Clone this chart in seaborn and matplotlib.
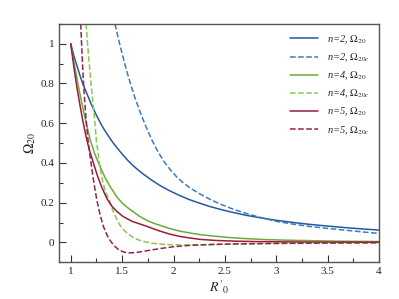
import numpy as np
import pandas as pd
import seaborn as sns
import matplotlib.pyplot as plt
from matplotlib.ticker import MultipleLocator

sns.set_style("ticks")
plt.rcParams['font.family'] = 'serif'
plt.rcParams['font.serif'] = ['Liberation Serif', 'DejaVu Serif']
plt.rcParams['mathtext.fontset'] = 'stix'
plt.rcParams['font.size'] = 8

# values
x_n2 = [1.0, 1.03, 1.06, 1.09, 1.12, 1.16, 1.2, 1.25, 1.3, 1.35, 1.4, 1.45, 1.5,
        1.56, 1.62, 1.7, 1.78, 1.86, 1.95, 2.05, 2.15, 2.25, 2.35, 2.45, 2.55,
        2.7, 2.85, 3.0, 3.15, 3.3, 3.5, 3.7, 3.85, 4.0]
y_n2 = [1.0, 0.94, 0.89, 0.84, 0.795, 0.745, 0.695, 0.64, 0.59, 0.548, 0.51,
        0.476, 0.445, 0.41, 0.38, 0.346, 0.316, 0.289, 0.263, 0.238, 0.216,
        0.198, 0.181, 0.167, 0.154, 0.137, 0.123, 0.111, 0.101, 0.092, 0.082,
        0.073, 0.067, 0.062]

x_n2c = [1.43, 1.48, 1.53, 1.58, 1.63, 1.68, 1.73, 1.79, 1.85, 1.91, 1.97, 2.03,
         2.1, 2.18, 2.26, 2.35, 2.45, 2.55, 2.65, 2.75, 2.85, 3.0, 3.15, 3.3,
         3.5, 3.7, 3.85, 4.0]
y_n2c = [1.10, 0.99, 0.89, 0.80, 0.72, 0.65, 0.585, 0.515, 0.455, 0.405, 0.365,
         0.33, 0.297, 0.268, 0.243, 0.218, 0.194, 0.173, 0.155, 0.139, 0.125,
         0.106, 0.093, 0.082, 0.07, 0.06, 0.052, 0.045]

x_n4 = [1.0, 1.04, 1.08, 1.12, 1.16, 1.19, 1.23, 1.285, 1.33, 1.382, 1.45, 1.5,
        1.545, 1.6, 1.67, 1.75, 1.83, 1.9, 1.98, 2.06, 2.16, 2.26, 2.4, 2.55,
        2.7, 2.9, 3.1, 3.3, 3.6, 4.0]
y_n4 = [1.0, 0.88, 0.77, 0.67, 0.58, 0.515, 0.45, 0.382, 0.33, 0.282, 0.228,
        0.198, 0.178, 0.157, 0.131, 0.108, 0.092, 0.08, 0.067, 0.057, 0.047,
        0.039, 0.031, 0.024, 0.019, 0.014, 0.011, 0.009, 0.006, 0.004]

x_n4c = [1.149, 1.165, 1.18, 1.192, 1.204, 1.22, 1.236, 1.25, 1.268, 1.285,
         1.31, 1.335, 1.38, 1.41, 1.45, 1.48, 1.52, 1.56, 1.61, 1.66, 1.72, 1.8,
         1.9, 2.0, 2.15, 2.3, 2.5, 2.75, 3.0, 3.5, 4.0]
y_n4c = [1.1, 0.99, 0.9, 0.83, 0.765, 0.68, 0.6, 0.51, 0.44, 0.375, 0.31, 0.26,
         0.205, 0.16, 0.115, 0.085, 0.06, 0.042, 0.024, 0.012, 0.003, -0.005,
         -0.01, -0.012, -0.013, -0.012, -0.01, -0.008, -0.006, -0.004, -0.002]

x_n5 = [1.0, 1.03, 1.06, 1.09, 1.12, 1.15, 1.18, 1.22, 1.26, 1.3, 1.35, 1.4,
        1.45, 1.51, 1.6, 1.7, 1.77, 1.86, 1.96, 2.06, 2.16, 2.26, 2.4, 2.6, 2.8,
        3.2, 3.6, 4.0]
y_n5 = [1.0, 0.885, 0.78, 0.69, 0.605, 0.53, 0.468, 0.4, 0.335, 0.28, 0.222,
        0.182, 0.155, 0.13, 0.105, 0.088, 0.075, 0.058, 0.042, 0.03, 0.022,
        0.015, 0.01, 0.006, 0.004, 0.002, 0.001, 0.001]

x_n5c = [1.097, 1.107, 1.117, 1.128, 1.14, 1.152, 1.165, 1.18, 1.2, 1.225, 1.253,
         1.285, 1.317, 1.35, 1.38, 1.414, 1.46, 1.51, 1.56, 1.62, 1.7, 1.8, 1.9,
         2.0, 2.16, 2.4, 2.7, 3.0, 3.5, 4.0]
y_n5c = [1.1, 0.98, 0.87, 0.77, 0.68, 0.6, 0.53, 0.465, 0.39, 0.3, 0.215, 0.14,
         0.081, 0.04, 0.012, -0.012, -0.035, -0.048, -0.053, -0.052, -0.046,
         -0.037, -0.029, -0.022, -0.015, -0.010, -0.007, -0.005, -0.003, -0.002]

series = [
    (x_n2, y_n2, '#245a9c', '-', r'n=2, $\mathit{\Omega}_{20}$'),
    (x_n2c, y_n2c, '#3b7bbd', '--', r'n=2, $\mathit{\Omega}_{20c}$'),
    (x_n4, y_n4, '#6aab3a', '-', r'n=4, $\mathit{\Omega}_{20}$'),
    (x_n4c, y_n4c, '#8cc752', '--', r'n=4, $\mathit{\Omega}_{20c}$'),
    (x_n5, y_n5, '#9c1a3e', '-', r'n=5, $\mathit{\Omega}_{20}$'),
    (x_n5c, y_n5c, '#94234a', '--', r'n=5, $\mathit{\Omega}_{20c}$'),
]

fig = plt.figure(figsize=(3.99, 2.99), dpi=100)
ax = fig.add_axes([0.149, 0.123, 0.801, 0.797])

for xs, ys, c, ls, lab in series:
    sns.lineplot(x=xs, y=ys, ax=ax, color=c, linestyle=ls, linewidth=1.1,
                 label=lab, sort=False)

ax.set_xlim(0.89, 4.0)
ax.set_ylim(-0.1, 1.1)
ax.xaxis.set_minor_locator(MultipleLocator(0.25))
ax.yaxis.set_minor_locator(MultipleLocator(0.1))
ax.set_xticks([1, 1.5, 2, 2.5, 3, 3.5, 4])
ax.set_xticklabels(['1', '1.5', '2', '2.5', '3', '3.5', '4'])
ax.set_yticks([0, 0.2, 0.4, 0.6, 0.8, 1])
ax.set_yticklabels(['0', '0.2', '0.4', '0.6', '0.8', '1'])
ax.tick_params(which='both', direction='in', colors='#333333', labelcolor='#222222')
ax.tick_params(which='major', length=5, width=0.8)
ax.tick_params(which='minor', length=3, width=0.8)
for s in ax.spines.values():
    s.set_color('#555555')
    s.set_linewidth(1.0)

ax.set_xlabel(r"$\mathit{R'_{0}}$", fontsize=10, labelpad=2)
ax.set_ylabel(r'$\mathit{\Omega_{20}}$', fontsize=10, labelpad=2)

ax.legend(loc='upper right', bbox_to_anchor=(1.0, 1.0), frameon=False,
          prop={'style': 'italic', 'size': 7.5}, handlelength=2.6,
          labelspacing=0.55, handletextpad=0.9)

fig.savefig('out.png', dpi=100)
